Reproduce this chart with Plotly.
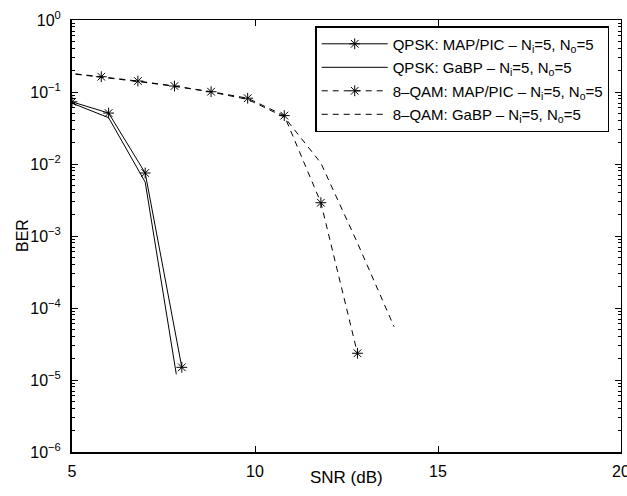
import plotly.graph_objects as go

# SNR (dB) and BER for each detector / modulation
snr_qpsk_map = [5.0, 6.0, 7.0, 8.0]
ber_qpsk_map = [0.073, 0.051, 0.0075, 1.5e-5]

snr_qpsk_gabp = [5.0, 6.0, 7.0, 7.85]
ber_qpsk_gabp = [0.070, 0.044, 0.0056, 1.2e-5]

snr_8qam_map = [4.8, 5.8, 6.8, 7.8, 8.8, 9.8, 10.8, 11.8, 12.8]
ber_8qam_map = [0.186, 0.163, 0.142, 0.121, 0.101, 0.082, 0.047, 0.0029, 2.35e-5]

snr_8qam_gabp = [4.8, 5.8, 6.8, 7.8, 8.8, 9.8, 10.8, 11.8, 12.8, 13.8]
ber_8qam_gabp = [0.184, 0.161, 0.140, 0.120, 0.100, 0.079, 0.045, 0.0103, 8.0e-4, 5.5e-5]

names = [
    "QPSK: MAP/PIC \u2013 N<sub>i</sub>=5, N<sub>o</sub>=5",
    "QPSK: GaBP \u2013 N<sub>i</sub>=5, N<sub>o</sub>=5",
    "8\u2013QAM: MAP/PIC \u2013 N<sub>i</sub>=5, N<sub>o</sub>=5",
    "8\u2013QAM: GaBP \u2013 N<sub>i</sub>=5, N<sub>o</sub>=5",
]

x_ticks = [5, 10, 15, 20]
y_ticks = [1e-6, 1e-5, 1e-4, 1e-3, 1e-2, 1e-1, 1e0]
y_labels = ["10<sup>\u22126</sup>", "10<sup>\u22125</sup>", "10<sup>\u22124</sup>",
            "10<sup>\u22123</sup>", "10<sup>\u22122</sup>", "10<sup>\u22121</sup>",
            "10<sup>0</sup>"]
y_minor = [m * 10.0 ** e for e in range(-6, 0) for m in range(2, 10)]

FONT = "Liberation Sans, Arial, sans-serif"
DASH = "6px,5px"

fig = go.Figure()
series = [
    (snr_qpsk_map, ber_qpsk_map, names[0], "solid", True),
    (snr_qpsk_gabp, ber_qpsk_gabp, names[1], "solid", False),
    (snr_8qam_map, ber_8qam_map, names[2], DASH, True),
    (snr_8qam_gabp, ber_8qam_gabp, names[3], DASH, False),
]
for i, (x, y, name, dash, has_marker) in enumerate(series):
    fig.add_trace(go.Scatter(
        x=x, y=y, name=name,
        mode="lines+markers" if has_marker else "lines",
        line=dict(color="black", width=1, dash=dash),
        marker=dict(symbol="asterisk-open", size=9, color="black",
                    line=dict(color="black", width=1)),
        legendgroup=f"g{i}",
        xaxis="x", yaxis="y",
    ))

axis_common = dict(
    showgrid=False, zeroline=False, ticks="inside", tickcolor="black",
    ticklen=6, tickwidth=1, linecolor="black", automargin=False,
    tickfont=dict(family=FONT, size=16, color="black"),
)

fig.update_layout(
    width=627, height=496,
    margin=dict(l=72, r=6, t=20, b=44),
    paper_bgcolor="white", plot_bgcolor="white",
    font=dict(family=FONT, size=16, color="black"),
    showlegend=True,
    legend=dict(
        x=0.443, y=0.986, xanchor="left", yanchor="top",
        bgcolor="white", bordercolor="black", borderwidth=1.5,
        font=dict(family=FONT, size=15, color="black"),
        tracegroupgap=1, itemwidth=66,
    ),
    xaxis=dict(
        **axis_common, range=[5, 20], tickvals=x_ticks,
        linewidth=2, showline=True, ticklabelstandoff=4,
        ticklabeloverflow="allow",
    ),
    yaxis=dict(
        **axis_common, type="log", range=[-6, 0],
        tickvals=y_ticks, ticktext=y_labels,
        linewidth=2, showline=True, ticklabelstandoff=6,
        ticklabeloverflow="allow",
        minor=dict(tickmode="array", tickvals=y_minor, ticks="inside",
                   ticklen=3, tickcolor="black"),
    ),
    xaxis2=dict(
        **axis_common, overlaying="x", side="top", range=[5, 20],
        tickvals=x_ticks, showticklabels=False, showline=True, linewidth=1,
    ),
    yaxis2=dict(
        **axis_common, overlaying="y", side="right", type="log", range=[-6, 0],
        tickvals=y_ticks, showticklabels=False, showline=True, linewidth=1,
        minor=dict(tickmode="array", tickvals=y_minor, ticks="inside",
                   ticklen=3, tickcolor="black"),
    ),
    annotations=[
        dict(text="SNR (dB)", xref="paper", yref="paper", x=0.5, y=-0.060,
             xanchor="center", yanchor="middle", showarrow=False,
             font=dict(family=FONT, size=17, color="black")),
        dict(text="BER", xref="paper", yref="paper", x=-0.091, y=0.5,
             xanchor="center", yanchor="middle", showarrow=False,
             textangle=-90, font=dict(family=FONT, size=16, color="black")),
    ],
)

# invisible trace so the top/right frame axes are rendered
fig.add_trace(go.Scatter(x=[None], y=[None], xaxis="x2", yaxis="y2",
                         showlegend=False, hoverinfo="skip"))

fig.write_html("out.html")
